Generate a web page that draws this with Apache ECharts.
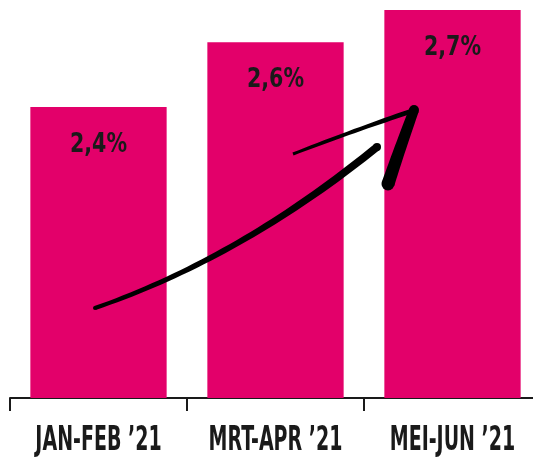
<!DOCTYPE html>
<html><head><meta charset="utf-8">
<script src="https://cdn.jsdelivr.net/npm/echarts@6/dist/echarts.min.js"></script>
<style>html,body{margin:0;padding:0;background:#fff}#c{width:533px;height:458px}</style>
</head><body><div id="c"></div>
<script>
var categories = ["JAN-FEB \u201921", "MRT-APR \u201921", "MEI-JUN \u201921"];
var values = [2.4, 2.6, 2.7];
var valueLabels = ["2,4%", "2,6%", "2,7%"];
var yMin = 1.5, yMax = 2.7;

var FONT = "'DejaVu Sans Condensed', 'DejaVu Sans', sans-serif";

// tapered stroke polygon along a quadratic bezier
function taper(p0, c, p2, w0, w1, n) {
  var left = [], right = [];
  for (var i = 0; i <= n; i++) {
    var t = i / n, u = 1 - t;
    var x = u*u*p0[0] + 2*u*t*c[0] + t*t*p2[0];
    var y = u*u*p0[1] + 2*u*t*c[1] + t*t*p2[1];
    var dx = 2*u*(c[0]-p0[0]) + 2*t*(p2[0]-c[0]);
    var dy = 2*u*(c[1]-p0[1]) + 2*t*(p2[1]-c[1]);
    var L = Math.sqrt(dx*dx+dy*dy) || 1;
    var nx = -dy/L, ny = dx/L;
    var w = (w0 + (w1-w0)*t) / 2;
    left.push([x + nx*w, y + ny*w]);
    right.push([x - nx*w, y - ny*w]);
  }
  return left.concat(right.reverse());
}

var chart = echarts.init(document.getElementById('c'), null, {renderer: 'canvas'});
chart.setOption({
  animation: false,
  grid: {left: 10, width: 531, top: 10, bottom: 60, containLabel: false, outerBoundsMode: 'none'},
  xAxis: {
    type: 'category',
    data: categories,
    axisLine: {show: true, lineStyle: {color: '#1a1a1a', width: 2}},
    axisTick: {show: true, length: 13, lineStyle: {color: '#1a1a1a', width: 2}},
    axisLabel: {show: false}
  },
  yAxis: {
    type: 'value', min: yMin, max: yMax, show: false,
    splitLine: {show: false}
  },
  series: [{
    type: 'bar',
    data: values,
    barCategoryGap: '23%',
    itemStyle: {color: '#E3006A'}
  }, {
    type: 'custom',
    data: values.map(function (v, i) { return [i, v]; }),
    z: 50,
    silent: true,
    clip: false,
    renderItem: function (params, api) {
      var i = api.value(0);
      var top = api.coord([i, api.value(1)]);
      var base = api.coord([i, yMin]);
      return {
        type: 'group',
        children: [{
          type: 'text', x: top[0], y: top[1] + 38, scaleX: 0.88,
          style: {text: valueLabels[i], x: 0, y: 0, align: 'center', verticalAlign: 'middle',
                  fill: '#1a1a1a', font: 'bold 26px ' + FONT}
        }, {
          type: 'text', x: base[0], y: base[1] + 43, scaleX: 0.64,
          style: {text: categories[i], x: 0, y: 0, align: 'center', verticalAlign: 'middle',
                  fill: '#1a1a1a', font: 'bold 33px ' + FONT}
        }]
      };
    }
  }],
  graphic: [
    {type: 'polygon', z: 100, shape: {points: taper([95,308],[240,258],[377,147], 4, 8, 40)},
     style: {fill: '#000'}},
    {type: 'polygon', z: 100, shape: {points: taper([293,154],[355,130],[415,110], 3, 5, 20)},
     style: {fill: '#000'}},
    {type: 'polygon', z: 100, shape: {points: taper([414,110],[400,148],[388,184], 10, 13, 20)},
     style: {fill: '#000'}},
    {type: 'circle', z: 100, shape: {cx: 95, cy: 308, r: 2}, style: {fill: '#000'}},
    {type: 'circle', z: 100, shape: {cx: 377, cy: 147, r: 4}, style: {fill: '#000'}},
    {type: 'circle', z: 100, shape: {cx: 414, cy: 110, r: 5}, style: {fill: '#000'}},
    {type: 'circle', z: 100, shape: {cx: 388, cy: 184, r: 6.5}, style: {fill: '#000'}}
  ]
});
</script></body></html>
